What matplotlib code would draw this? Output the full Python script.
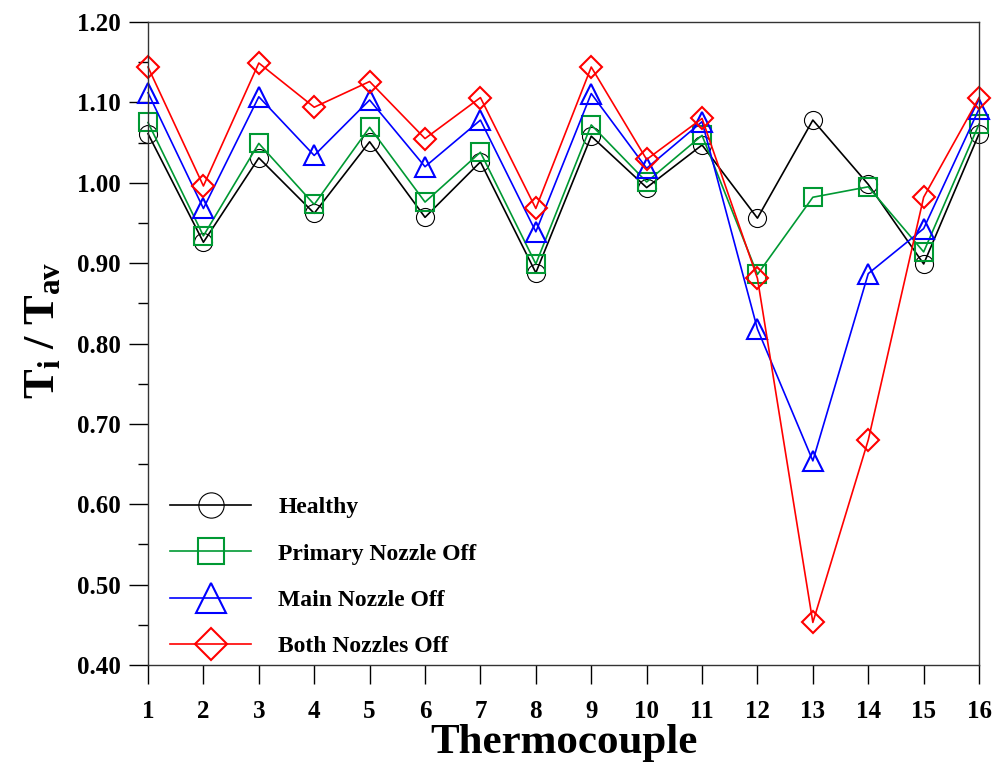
import matplotlib
matplotlib.use("Agg")
import matplotlib.pyplot as plt
from matplotlib.ticker import MultipleLocator, FormatStrFormatter

plt.rcParams['font.family'] = ['Liberation Serif', 'DejaVu Serif']
plt.rcParams['font.weight'] = 'bold'
plt.rcParams['mathtext.fontset'] = 'custom'
plt.rcParams['mathtext.rm'] = 'Liberation Serif:bold'
plt.rcParams['mathtext.it'] = 'Liberation Serif:bold'
plt.rcParams['mathtext.bf'] = 'Liberation Serif:bold'

# data
thermocouple = list(range(1, 17))
healthy = [1.061, 0.926, 1.031, 0.962, 1.051, 0.957, 1.026, 0.888,
           1.058, 0.994, 1.047, 0.956, 1.078, 0.998, 0.899, 1.061]
primary_off = [1.075, 0.934, 1.049, 0.973, 1.069, 0.976, 1.038, 0.899,
               1.072, 1.001, 1.059, 0.886, 0.982, 0.995, 0.914, 1.073]
main_off = [1.112, 0.968, 1.107, 1.034, 1.103, 1.020, 1.078, 0.939,
            1.111, 1.018, 1.076, 0.818, 0.654, 0.887, 0.943, 1.092]
both_off = [1.144, 0.996, 1.149, 1.094, 1.126, 1.055, 1.106, 0.968,
            1.144, 1.029, 1.080, 0.881, 0.453, 0.680, 0.982, 1.106]

series = [
    ("Healthy", healthy, "black", "o", 13, 0.8),
    ("Primary Nozzle Off", primary_off, "#009933", "s", 13.5, 1.5),
    ("Main Nozzle Off", main_off, "#0000ff", "^", 15, 1.5),
    ("Both Nozzles Off", both_off, "#ff0000", "D", 11.5, 1.5),
]

fig = plt.figure(figsize=(9.96, 7.65), dpi=100)
ax = fig.add_axes([0.1486, 0.1307, 0.8344, 0.8405])

for label, vals, col, mk, ms, mew in series:
    ax.plot(thermocouple, vals, color=col, lw=1.2, marker=mk, ms=ms,
            mfc='none', mec=col, mew=mew, label=label, clip_on=False)

ax.set_xlim(1, 16)
ax.set_ylim(0.40, 1.20)
ax.set_xticks(thermocouple)
ax.yaxis.set_major_locator(MultipleLocator(0.1))
ax.yaxis.set_minor_locator(MultipleLocator(0.05))
ax.yaxis.set_major_formatter(FormatStrFormatter('%.2f'))
ax.tick_params(axis='both', which='major', direction='out', length=13.5,
               width=1, labelsize=18, pad=6)
ax.tick_params(axis='x', which='major', pad=11.5)
ax.tick_params(axis='y', which='minor', direction='out', length=7, width=1)
for sp in ax.spines.values():
    sp.set_linewidth(1.0)
    sp.set_color('#333333')

ax.set_xlabel("Thermocouple", fontsize=31, fontweight='bold', labelpad=1)
ax.set_ylabel(r"T$_\mathrm{i}$ / T$_\mathrm{av}$", fontsize=32,
              fontweight='bold', labelpad=12)
ax.yaxis.set_label_coords(-0.102, 0.52)

ax.legend(loc='lower left', bbox_to_anchor=(0.0265, 0.012), frameon=False,
          fontsize=17, handlelength=3.43, handletextpad=1.15,
          labelspacing=1.05, markerscale=1.4, borderpad=0, borderaxespad=0)

fig.savefig("out.png", dpi=100)
